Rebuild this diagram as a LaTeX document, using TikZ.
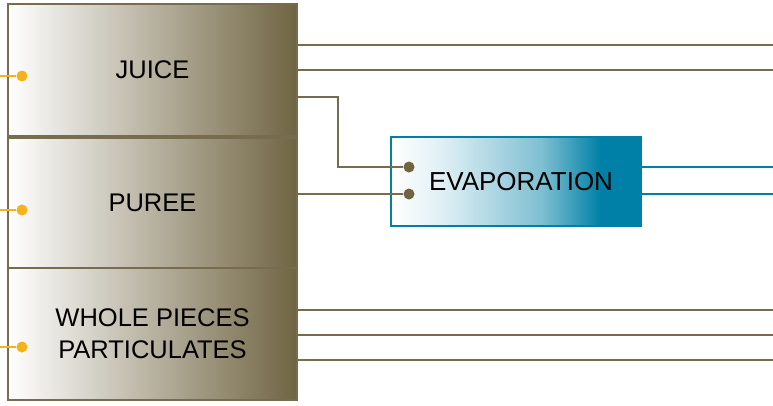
\documentclass[tikz,border=0pt]{standalone}
\usepackage{fontspec}
\setmainfont{Liberation Sans}
\usepackage{tikz}
\definecolor{mud}{RGB}{112,100,66}
\definecolor{mudline}{RGB}{120,108,78}
\definecolor{evapblue}{RGB}{0,128,166}
\definecolor{feedorange}{RGB}{245,178,26}
\pgfdeclarehorizontalshading{evapfade}{100bp}{color(0bp)=(white);color(25bp)=(white);
  color(35bp)=(white!88!evapblue);color(55bp)=(evapblue!50);color(67bp)=(evapblue);color(100bp)=(evapblue)}
\tikzset{prodbox/.style={draw=mudline,line width=2pt,left color=white,right color=mud,
    minimum width=289pt,inner sep=0pt,align=center,font=\fontsize{25.5}{32}\selectfont},
  evapbox/.style={draw=evapblue,line width=2pt,shading=evapfade,
    minimum width=250pt,minimum height=89pt,inner sep=0pt,font=\fontsize{26}{30}\selectfont},
  mudpipe/.style={draw=mudline,line width=2.5pt},
  bluepipe/.style={draw=evapblue,line width=2.5pt},
  feedpipe/.style={draw=feedorange,line width=2.5pt},
  muddot/.style={circle,fill=mud,minimum size=11pt,inner sep=0pt},
  feeddot/.style={circle,fill=feedorange,minimum size=11pt,inner sep=0pt}}

\begin{document}
\begin{tikzpicture}[x=1pt,y=-1pt]
      \useasboundingbox (0,0) rectangle (773,405);

      \node[prodbox,minimum height=132pt] (juice) at (152.5,70) {JUICE};
      \node[prodbox,minimum height=130pt] (puree) at (152.5,203) {PUREE};
      \node[prodbox,minimum height=132pt] (whole) at (152.5,334) {WHOLE PIECES\\PARTICULATES};

      \node[evapbox] (evap) at (516,181.5) {\hspace*{10pt}EVAPORATION};

      % feeds on the left
      \coordinate (f1) at (0,76);
      \coordinate (f2) at (0,210);
      \coordinate (f3) at (0,347);
      \node[feeddot] (fd1) at (22,76) {};
      \node[feeddot] (fd2) at (22,210) {};
      \node[feeddot] (fd3) at (22,347) {};
      \draw[feedpipe] (f1) -- (fd1);
      \draw[feedpipe] (f2) -- (fd2);
      \draw[feedpipe] (f3) -- (fd3);

      % outlets on the right
      \coordinate (o1) at (773,45);
      \coordinate (o2) at (773,70);
      \coordinate (o3) at (773,310);
      \coordinate (o4) at (773,335);
      \coordinate (o5) at (773,360);
      \coordinate (o6) at (773,167);
      \coordinate (o7) at (773,194);
      \draw[mudpipe] (juice.east |- o1) -- (o1);
      \draw[mudpipe] (juice.east |- o2) -- (o2);
      \draw[mudpipe] (whole.east |- o3) -- (o3);
      \draw[mudpipe] (whole.east |- o4) -- (o4);
      \draw[mudpipe] (whole.east |- o5) -- (o5);

      % into the evaporator
      \node[muddot] (e1) at (409,167) {};
      \node[muddot] (e2) at (409,194) {};
      \coordinate (bend) at (338,97);
      \draw[mudpipe] (juice.east |- bend) -- (bend) |- (e1);
      \draw[mudpipe] (puree.east |- e2) -- (e2);

      \draw[bluepipe] (evap.east |- o6) -- (o6);
      \draw[bluepipe] (evap.east |- o7) -- (o7);
\end{tikzpicture}
\end{document}
